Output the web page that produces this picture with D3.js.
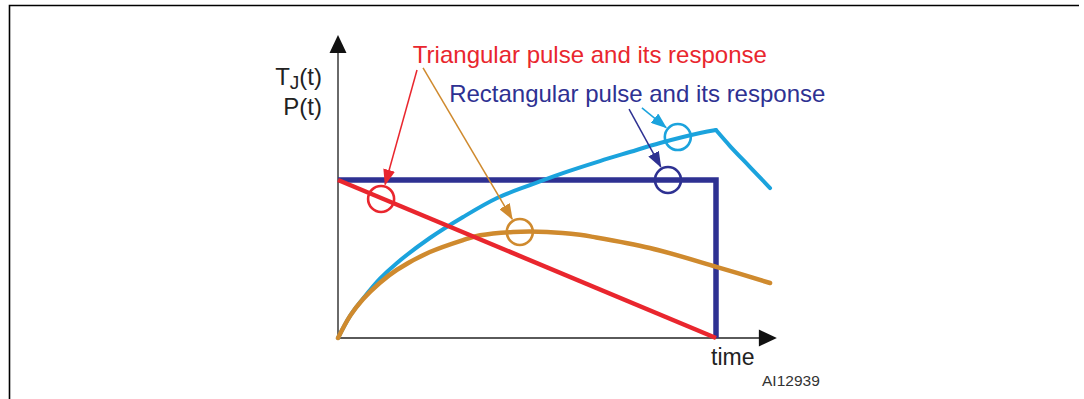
<!DOCTYPE html>
<html>
<head>
<meta charset="utf-8">
<script src="https://cdn.jsdelivr.net/npm/d3@7"></script>
<style>
  html, body { margin: 0; padding: 0; background: #fff; }
  svg { display: block; }
  text { font-family: "Liberation Sans", Arial, Helvetica, sans-serif; }
</style>
</head>
<body>
<svg id="chart" width="1084" height="399"></svg>
<script>
// Time is normalised to the pulse width, amplitude to the pulse height.
const axisMax = { t: 1.161, v: 1.918 };

// Rectangular power pulse P(t)
const rectPulse = [
  { t: 0, v: 1 }, { t: 1, v: 1 }, { t: 1, v: 0 }
];

// Triangular power pulse P(t)
const triPulse = [
  { t: 0, v: 1 }, { t: 1, v: 0 }
];

// Junction temperature response to the rectangular pulse: heating while the pulse is on
const rectHeatT = [0, 0.032, 0.066, 0.111, 0.156, 0.243, 0.331, 0.421, 0.508, 0.595, 0.693, 0.772, 0.852, 0.958, 1.0];
const rectHeatV = [0, 0.140, 0.248, 0.375, 0.475, 0.633, 0.766, 0.886, 0.968, 1.044, 1.120, 1.177, 1.234, 1.297, 1.316];
// ... and cooling once it ends
const rectCoolT = [1.0, 1.037, 1.090, 1.143];
const rectCoolV = [1.316, 1.215, 1.082, 0.949];

// Junction temperature response to the triangular pulse
const triResponseT = [0, 0.032, 0.066, 0.111, 0.156, 0.243, 0.331, 0.376, 0.463, 0.553, 0.640, 0.675, 0.825, 1.003, 1.143];
const triResponseV = [0, 0.140, 0.245, 0.350, 0.432, 0.544, 0.620, 0.650, 0.671, 0.671, 0.653, 0.640, 0.570, 0.449, 0.348];

// Callout circles on each trace, and where their pointer lines start
const callouts = [
  { key: "tri",      t: 0.114, v: 0.880, ft: 0.209, fv: 1.696 },
  { key: "triResp",  t: 0.481, v: 0.671, ft: 0.225, fv: 1.709 },
  { key: "rectResp", t: 0.899, v: 1.272, ft: 0.804, fv: 1.456 },
  { key: "rect",     t: 0.873, v: 1.0,   ft: 0.770, fv: 1.449 }
];

const labels = [
  { text: "Triangular pulse and its response",  key: "tri",  t: 0.198, v: 1.741 },
  { text: "Rectangular pulse and its response", key: "rect", t: 0.294, v: 1.494 }
];

const colors = {
  tri: "#e9262e",
  triResp: "#cf8a2e",
  rect: "#2e3192",
  rectResp: "#1ba3dd",
  axis: "#5a5a5a"
};

const svg = d3.select("#chart");

const x = d3.scaleLinear().domain([0, 1]).range([338, 716]);
const y = d3.scaleLinear().domain([0, 1]).range([338, 180]);

// Outer frame of the figure
svg.append("path")
  .attr("d", "M9.5,399 L9.5,5.5 L1079,5.5")
  .attr("fill", "none")
  .attr("stroke", "#000")
  .attr("stroke-width", 1.6);

// Axes with arrowheads
const x0 = x(0), y0 = y(0), xEnd = x(axisMax.t), yEnd = y(axisMax.v);
svg.append("line")
  .attr("x1", x0).attr("y1", y0).attr("x2", x0).attr("y2", yEnd + 14)
  .attr("stroke", colors.axis).attr("stroke-width", 1.8);
svg.append("line")
  .attr("x1", x0).attr("y1", y0).attr("x2", xEnd - 14).attr("y2", y0)
  .attr("stroke", colors.axis).attr("stroke-width", 1.8);
svg.append("path")
  .attr("d", `M${x0},${yEnd} L${x0 - 8.5},${yEnd + 18} L${x0 + 8.5},${yEnd + 18} Z`)
  .attr("fill", "#111");
svg.append("path")
  .attr("d", `M${xEnd},${y0} L${xEnd - 18},${y0 - 8.5} L${xEnd - 18},${y0 + 8.5} Z`)
  .attr("fill", "#111");

const straight = d3.line().x(d => x(d.t)).y(d => y(d.v));
const smooth = d3.line().x(d => x(d.t)).y(d => y(d.v)).curve(d3.curveCatmullRom.alpha(0.5));

const zipSeries = (ts, vs) => ts.map((t, i) => ({ t, v: vs[i] }));

// Rectangular pulse
svg.append("path")
  .datum(rectPulse)
  .attr("d", straight)
  .attr("fill", "none")
  .attr("stroke", colors.rect)
  .attr("stroke-width", 5.5)
  .attr("stroke-linejoin", "miter");

// Response to the rectangular pulse
[zipSeries(rectHeatT, rectHeatV), zipSeries(rectCoolT, rectCoolV)].forEach(seg => {
  svg.append("path")
    .datum(seg)
    .attr("d", smooth)
    .attr("fill", "none")
    .attr("stroke", colors.rectResp)
    .attr("stroke-width", 4)
    .attr("stroke-linecap", "round")
    .attr("stroke-linejoin", "round");
});

// Response to the triangular pulse
svg.append("path")
  .datum(zipSeries(triResponseT, triResponseV))
  .attr("d", smooth)
  .attr("fill", "none")
  .attr("stroke", colors.triResp)
  .attr("stroke-width", 4.5)
  .attr("stroke-linecap", "round");

// Triangular pulse
svg.append("path")
  .datum(triPulse)
  .attr("d", straight)
  .attr("fill", "none")
  .attr("stroke", colors.tri)
  .attr("stroke-width", 4.5);

// Arrowhead markers for the callout pointers
const defs = svg.append("defs");
Object.keys(colors).forEach(k => {
  defs.append("marker")
    .attr("id", "arrow-" + k)
    .attr("markerUnits", "userSpaceOnUse")
    .attr("viewBox", "0 -6 16 12")
    .attr("refX", 15).attr("refY", 0)
    .attr("markerWidth", 16).attr("markerHeight", 12)
    .attr("orient", "auto")
    .append("path")
    .attr("d", "M0,-6 L16,0 L0,6 Z")
    .attr("fill", colors[k]);
});

const R = 13;
callouts.forEach(c => {
  const cx = x(c.t), cy = y(c.v);
  const fx = x(c.ft), fy = y(c.fv);
  const dx = cx - fx, dy = cy - fy, len = Math.hypot(dx, dy);
  const stop = R + 2;
  svg.append("line")
    .attr("x1", fx).attr("y1", fy)
    .attr("x2", cx - dx / len * stop).attr("y2", cy - dy / len * stop)
    .attr("stroke", colors[c.key])
    .attr("stroke-width", 1.5)
    .attr("marker-end", `url(#arrow-${c.key})`);
  svg.append("circle")
    .attr("cx", cx).attr("cy", cy).attr("r", R)
    .attr("fill", "none")
    .attr("stroke", colors[c.key])
    .attr("stroke-width", 2.6);
});

// Series labels
labels.forEach(l => {
  svg.append("text")
    .attr("x", x(l.t)).attr("y", y(l.v))
    .attr("font-size", 24)
    .attr("fill", colors[l.key])
    .text(l.text);
});

// Axis titles
const tj = svg.append("text")
  .attr("x", 322).attr("y", 85)
  .attr("text-anchor", "end")
  .attr("font-size", 24)
  .attr("fill", "#222");
tj.append("tspan").text("T");
tj.append("tspan").attr("font-size", 19).attr("dy", 4).text("J");
tj.append("tspan").attr("dy", -4).text("(t)");

svg.append("text")
  .attr("x", 322).attr("y", 115)
  .attr("text-anchor", "end")
  .attr("font-size", 24)
  .attr("fill", "#222")
  .text("P(t)");

svg.append("text")
  .attr("x", 711).attr("y", 365)
  .attr("font-size", 23)
  .attr("fill", "#222")
  .text("time");

svg.append("text")
  .attr("x", 762).attr("y", 386)
  .attr("font-size", 15.5)
  .attr("fill", "#333")
  .text("AI12939");
</script>
</body>
</html>
